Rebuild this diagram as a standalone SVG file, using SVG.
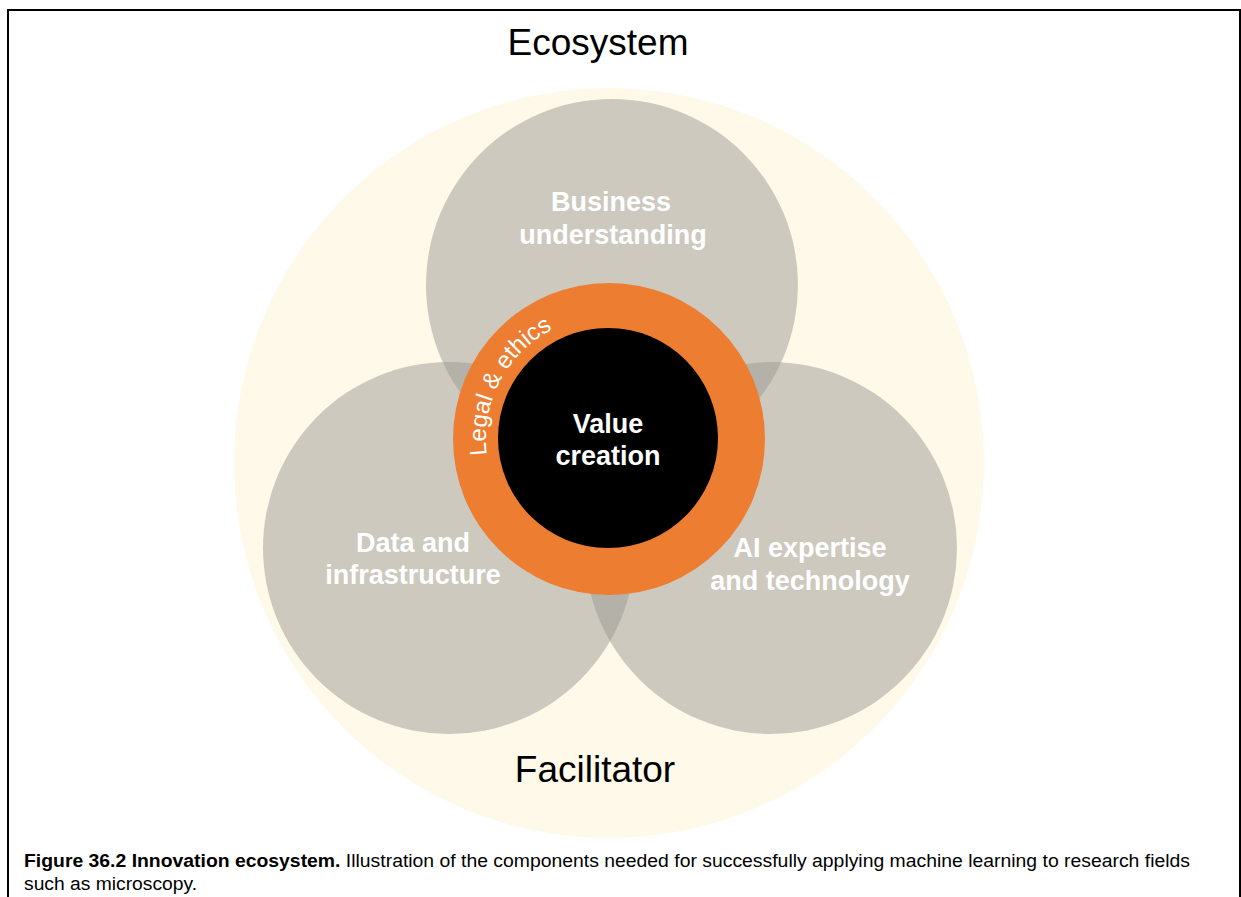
<svg xmlns="http://www.w3.org/2000/svg" xmlns:xlink="http://www.w3.org/1999/xlink" width="1241" height="897" viewBox="0 0 1241 897">
  <style>
    .lbl { font-family: "Liberation Sans", Arial, sans-serif; font-weight: bold; font-size: 27px; fill: #ffffff; text-anchor: middle; }
    .big { font-family: "Liberation Sans", Arial, sans-serif; font-size: 37px; fill: #000000; text-anchor: middle; }
    .grey { fill: #9c9a94; fill-opacity: 0.5; }
    .cap { font-family: "Liberation Sans", Arial, sans-serif; font-size: 17.5px; fill: #000000; }
  </style>
  <defs>
    <path id="legalArc" d="M 487.0 455.0 A 123 123 0 0 1 700 356"/>
  </defs>
  <rect x="0" y="0" width="1241" height="897" fill="#ffffff"/>
  <rect x="8" y="10" width="1232" height="900" fill="none" stroke="#000000" stroke-width="2"/>

  <g id="ecosystem">
    <circle cx="609" cy="463" r="375" fill="#fff9e9"/>
    <text class="big" x="598" y="55">Ecosystem</text>
  </g>
  <g id="facilitator">
    <text class="big" x="595" y="782">Facilitator</text>
  </g>

  <g id="business">
    <circle class="grey" cx="612" cy="285" r="186"/>
    <text class="lbl" x="611" y="211">Business</text>
    <text class="lbl" x="613" y="244">understanding</text>
  </g>
  <g id="data">
    <circle class="grey" cx="449" cy="548" r="186"/>
    <text class="lbl" x="413" y="552">Data and</text>
    <text class="lbl" x="413" y="584">infrastructure</text>
  </g>
  <g id="ai">
    <circle class="grey" cx="771" cy="548" r="186"/>
    <text class="lbl" x="810" y="557">AI expertise</text>
    <text class="lbl" x="810" y="590">and technology</text>
  </g>

  <g id="legal">
    <circle cx="609" cy="439" r="156" fill="#ed7d31"/>
    <text font-family="Liberation Sans, Arial, sans-serif" font-size="24" fill="#ffffff"><textPath xlink:href="#legalArc" href="#legalArc">Legal &amp; ethics</textPath></text>
  </g>
  <g id="value">
    <circle cx="608" cy="438" r="110" fill="#000000"/>
    <text class="lbl" x="608" y="433">Value</text>
    <text class="lbl" x="608" y="465">creation</text>
  </g>

  <g id="connectors"></g>

  <g id="caption">
    <text class="cap" x="24" y="867" textLength="1166" lengthAdjust="spacingAndGlyphs"><tspan font-weight="bold">Figure 36.2 Innovation ecosystem.</tspan> Illustration of the components needed for successfully applying machine learning to research fields</text>
    <text class="cap" x="24" y="890" textLength="173" lengthAdjust="spacingAndGlyphs">such as microscopy.</text>
  </g>
</svg>
